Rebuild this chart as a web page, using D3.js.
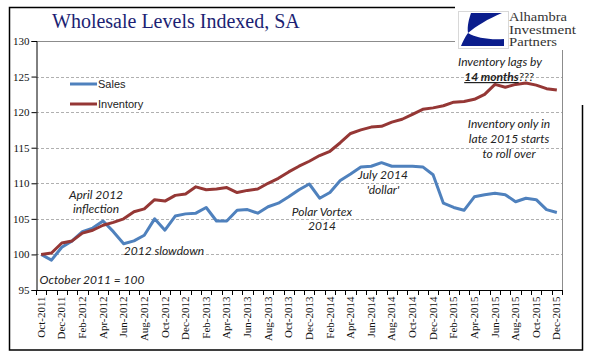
<!DOCTYPE html>
<html>
<head>
<meta charset="utf-8">
<script src="https://cdn.jsdelivr.net/npm/d3@7"></script>
<style>
html,body{margin:0;padding:0;background:#fff;}
svg{display:block;}
</style>
</head>
<body>
<svg id="chart" width="596" height="358"></svg>
<script>
const months = ["Oct-2011","Nov-2011","Dec-2011","Jan-2012","Feb-2012","Mar-2012","Apr-2012","May-2012","Jun-2012","Jul-2012","Aug-2012","Sep-2012","Oct-2012","Nov-2012","Dec-2012","Jan-2013","Feb-2013","Mar-2013","Apr-2013","May-2013","Jun-2013","Jul-2013","Aug-2013","Sep-2013","Oct-2013","Nov-2013","Dec-2013","Jan-2014","Feb-2014","Mar-2014","Apr-2014","May-2014","Jun-2014","Jul-2014","Aug-2014","Sep-2014","Oct-2014","Nov-2014","Dec-2014","Jan-2015","Feb-2015","Mar-2015","Apr-2015","May-2015","Jun-2015","Jul-2015","Aug-2015","Sep-2015","Oct-2015","Nov-2015","Dec-2015"];
const sales = [100,99.2,101.0,101.9,103.2,103.7,104.7,103.2,101.5,101.9,102.7,105.0,103.4,105.4,105.7,105.8,106.6,104.7,104.7,106.2,106.3,105.8,106.7,107.2,108.1,109.1,109.9,107.9,108.7,110.4,111.3,112.3,112.4,112.9,112.4,112.4,112.4,112.3,111.2,107.2,106.6,106.2,108.1,108.4,108.6,108.4,107.4,107.9,107.7,106.3,105.9];
const inventory = [100,100.2,101.6,101.9,103.0,103.4,104.1,104.5,105.0,106.0,106.4,107.7,107.5,108.3,108.5,109.5,109.1,109.2,109.4,108.7,109.0,109.2,110.0,110.7,111.6,112.4,113.1,113.9,114.5,115.7,117.0,117.5,117.9,118.0,118.6,119.0,119.7,120.4,120.6,120.9,121.4,121.5,121.8,122.5,123.9,123.5,123.9,124.1,123.8,123.3,123.1];
const yTicks = [95,100,105,110,115,120,125,130];
const seriesNames = ["Sales","Inventory"];
const seriesColors = ["#4F81BD","#953735"];

const svg = d3.select("#chart");
const L = 36, R = 562, T = 41, B = 290;

const x = d3.scaleBand().domain(months).range([L, R]).padding(0);
const y = d3.scaleLinear().domain([95, 130]).range([B, T]);
const cx = m => x(m) + x.bandwidth() / 2;

// outer frame
const frame = svg.append("g").attr("stroke", "#000").attr("stroke-width", 1.5).attr("fill", "none");
frame.append("path").attr("d", `M455,7.5 L9.5,7.5 L9.5,350 L582.5,350 L582.5,105`);

// gridlines
svg.append("g").selectAll("line").data(yTicks.filter(v => v > 95 && v < 130)).join("line")
  .attr("x1", L).attr("x2", R).attr("y1", d => Math.round(y(d)) + 0.5).attr("y2", d => Math.round(y(d)) + 0.5)
  .attr("stroke", "#b0b0b0").attr("stroke-dasharray", "3,2").attr("stroke-width", 1);

// plot border top/right
svg.append("path").attr("d", `M${L},${Math.round(y(130)) + 0.5} H${R + 0.5} V${B}`)
  .attr("fill", "none").attr("stroke", "#8c8c8c").attr("stroke-width", 1);

// y axis
const yAxis = svg.append("g").attr("transform", `translate(${L + 0.5},0)`)
  .call(d3.axisLeft(y).tickValues(yTicks).tickSize(5).tickPadding(2).tickFormat(d3.format("d")));
yAxis.select(".domain").attr("stroke", "#000");
yAxis.selectAll(".tick line").attr("stroke", "#000");
yAxis.selectAll("text").attr("font-family", "Liberation Serif, Times New Roman, serif").attr("font-size", 11).attr("fill", "#111");

// x axis
const xAxis = svg.append("g").attr("transform", `translate(0,${B + 0.5})`)
  .call(d3.axisBottom(x).tickValues(months.filter((m, i) => i % 2 === 0)).tickSize(0).tickPadding(6));
xAxis.select(".domain").attr("stroke", "#000").attr("d", `M${L},0H${R + 0.5}`);
xAxis.selectAll("text")
  .attr("font-family", "Liberation Serif, Times New Roman, serif").attr("font-size", 11).attr("fill", "#111")
  .attr("transform", "rotate(-90)").attr("text-anchor", "end").attr("dx", "-6").attr("dy", "0.33em").attr("y", 0).attr("x", 0);
// category boundary tick marks
const bounds = months.map(m => x(m)).concat([x(months[months.length - 1]) + x.bandwidth()]);
svg.append("g").selectAll("line").data(bounds).join("line")
  .attr("x1", d => Math.round(d) + 0.5).attr("x2", d => Math.round(d) + 0.5)
  .attr("y1", B).attr("y2", B + 5).attr("stroke", "#000");

// lines
const line = d3.line().x((d, i) => cx(months[i])).y(d => y(d));
[sales, inventory].forEach((s, k) => {
  svg.append("path").datum(s).attr("d", line).attr("fill", "none")
    .attr("stroke", seriesColors[k]).attr("stroke-width", 3).attr("stroke-linejoin", "round");
});

// legend
const leg = svg.append("g");
seriesNames.forEach((n, k) => {
  const ly = 84 + k * 20;
  leg.append("line").attr("x1", 70).attr("x2", 97).attr("y1", ly).attr("y2", ly)
    .attr("stroke", seriesColors[k]).attr("stroke-width", 3);
  leg.append("text").attr("x", 98).attr("y", ly + 4).text(n)
    .attr("font-family", "Liberation Sans, Arial, sans-serif").attr("font-size", 11).attr("fill", "#222");
});

// title
svg.append("text").attr("x", 52).attr("y", 28).text("Wholesale Levels Indexed, SA")
  .attr("font-family", "Liberation Serif, Times New Roman, serif").attr("font-size", 20).attr("fill", "#1c1f73");

// annotations
const ann = svg.append("g").attr("font-family", "Lato, Open Sans, sans-serif").attr("font-style", "italic")
  .attr("font-size", 12).attr("fill", "#222").attr("text-anchor", "middle");
const notes = [
  [96, 199, "April 2012"], [96, 213, "inflection"],
  [164, 255, "2012 slowdown"],
  [92, 284, "October 2011 = 100"],
  [322, 216, "Polar Vortex"], [322, 230, "2014"],
  [383, 179, "July 2014"], [383, 194, "'dollar'"],
  [500, 66, "Inventory lags by"],
  [509, 128, "Inventory only in"], [509, 143, "late 2015 starts"], [509, 158, "to roll over"]
];
notes.forEach(([nx, ny, t]) => ann.append("text").attr("x", nx).attr("y", ny).text(t));
const t14 = ann.append("text").attr("x", 499).attr("y", 81);
t14.append("tspan").attr("font-weight", "bold").attr("text-decoration", "underline").text("14 months");
t14.append("tspan").text("???");

// logo
const logo = svg.append("g");
logo.append("rect").attr("x", 455).attr("y", 0).attr("width", 141).attr("height", 50).attr("fill", "#fff");
const lg = logo.append("g").attr("transform", "translate(458,11)");
lg.append("rect").attr("x", 0.5).attr("y", 0.5).attr("width", 50).attr("height", 37).attr("fill", "#fff").attr("stroke", "#d8d8d8");
lg.append("path").attr("d", "M13,2 L44,2 C30,8 18,15 10,22 C9,15 11,8 13,2 Z").attr("fill", "#0b1d8c");
lg.append("path").attr("d", "M10,22 C18,27 32,29 46,28 L46,35 L3,35 C5,30 7,26 10,22 Z").attr("fill", "#0b1d8c");
const lt = logo.append("g").attr("font-family", "Liberation Serif, Times New Roman, serif").attr("font-size", 13.5).attr("fill", "#333");
lt.append("text").attr("x", 509).attr("y", 21).attr("textLength", 58).attr("lengthAdjust", "spacingAndGlyphs").text("Alhambra");
lt.append("text").attr("x", 509).attr("y", 33.5).attr("textLength", 67).attr("lengthAdjust", "spacingAndGlyphs").text("Investment");
lt.append("text").attr("x", 509).attr("y", 46).attr("textLength", 48).attr("lengthAdjust", "spacingAndGlyphs").text("Partners");
// plot right edge below logo
svg.append("line").attr("x1", R + 0.5).attr("x2", R + 0.5).attr("y1", 52).attr("y2", B).attr("stroke", "#8c8c8c");
</script>
</body>
</html>
